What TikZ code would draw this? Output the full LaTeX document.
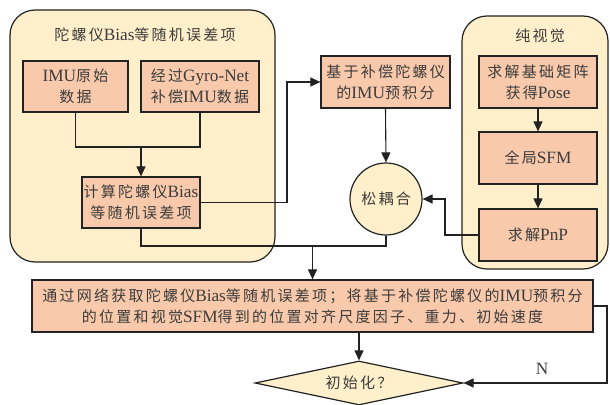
\documentclass[tikz,border=0pt]{standalone}
\usepackage{fontspec}
\setmainfont{Noto Sans CJK SC}[LetterSpace=15]
\newfontfamily\latinf{Liberation Serif}[Scale=1.15]
\newcommand\la[1]{{\latinf #1}}
\usetikzlibrary{shapes.geometric,arrows.meta}
\definecolor{cont}{HTML}{FFF0CB}
\definecolor{boxc}{HTML}{F8C9AB}
\definecolor{txt}{HTML}{3C3C3C}
\definecolor{ln}{HTML}{222222}
\tikzset{
 every node/.style={font=\fontsize{15}{21}\selectfont, text=txt},
 container/.style={draw=ln, line width=1.2pt, fill=cont, rounded corners=25pt, inner sep=0pt},
 procbox/.style={draw=ln, line width=1.2pt, fill=boxc, align=center, inner sep=0pt},
 conn/.style={draw=ln, line width=1.1pt},
 arr/.style={conn, -{Triangle[length=10pt,width=9pt]}},
}
\begin{document}
\begin{tikzpicture}[x=1pt,y=-1pt]
\useasboundingbox (0,0) rectangle (610,404);
% containers
\node[container, minimum width=265pt, minimum height=252pt] (leftc) at (142.5,136) {};
\node (lefttitle) at (145,35) {陀螺仪\la{Bias}等随机误差项};
\node[container, minimum width=146pt, minimum height=253pt] (rightc) at (535,142.5) {};
\node (righttitle) at (540,36) {纯视觉};
% boxes
\node[procbox, minimum width=105pt, minimum height=51pt] (imuraw) at (75.5,86.5) {\la{IMU}原始\\数据};
\node[procbox, minimum width=118pt, minimum height=51pt] (gyro) at (200,86.5) {经过\la{Gyro-Net}\\补偿\la{IMU}数据};
\node[procbox, minimum width=118pt, minimum height=51pt] (calc) at (141,202.5) {计算陀螺仪\la{Bias}\\等随机误差项};
\node[procbox, minimum width=129pt, minimum height=52pt] (preint) at (385.5,82) {基于补偿陀螺仪\\的\la{IMU}预积分};
\node[procbox, minimum width=118pt, minimum height=52pt] (ess) at (538,82) {求解基础矩阵\\获得\la{Pose}};
\node[procbox, minimum width=118pt, minimum height=52pt] (sfm) at (538,158) {全局\la{SFM}};
\node[procbox, minimum width=118pt, minimum height=52pt] (pnp) at (538,235) {求解\la{PnP}};
\node[circle, draw=ln, line width=1.2pt, fill=cont, minimum size=72pt, inner sep=0pt] (circ) at (386,199) {松耦合};
\node[procbox, minimum width=561pt, minimum height=52pt] (big) at (312.5,306) {通过网络获取陀螺仪\la{Bias}等随机误差项；将基于补偿陀螺仪的\la{IMU}预积分\\的位置和视觉\la{SFM}得到的位置对齐尺度因子、重力、初始速度};
\node[diamond, draw=ln, line width=1.2pt, fill=cont, minimum width=208pt, minimum height=44pt, inner sep=0pt, aspect=4.7] (diam) at (359,383) {初始化？};
\node (nlabel) at (542,369) {\la{N}};
% connectors
\coordinate (m) at (141,147);
\draw[conn] (imuraw.south) |- (m) -| (gyro.south);
\draw[arr] (m) -- (calc.north);
\coordinate (k) at (287,82);
\draw[arr] (calc.east) -| (k) -- (preint.west);
\draw[arr] (preint.south) -- (circ.north);
\draw[arr] (ess.south) -- (sfm.north);
\draw[arr] (sfm.south) -- (pnp.north);
\coordinate (p) at (445,199);
\draw[arr] (pnp.west) -| (p) -- (circ.east);
\coordinate (q) at (312.5,246);
\draw[conn] (calc.south) |- (q);
\draw[conn] (circ.south) |- (q);
\draw[arr] (q) -- (big.north);
\draw[arr] (diam.north |- big.south) -- (diam.north);
\coordinate (r) at (607,340);
\draw[arr] (big.east) -| (r) |- (diam.east);
\end{tikzpicture}
\end{document}
